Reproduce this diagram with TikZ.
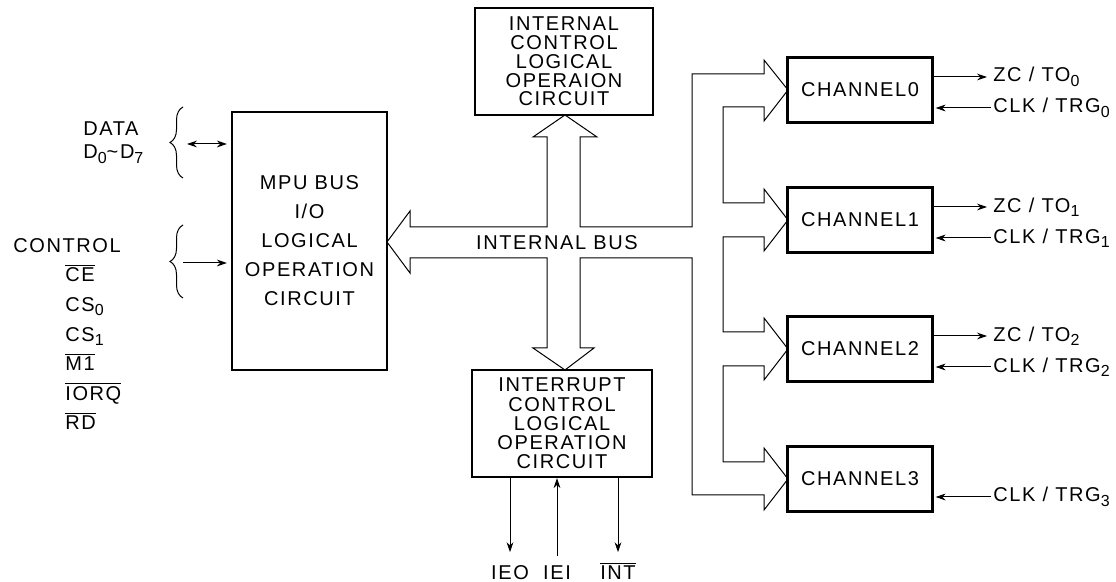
\documentclass[tikz,border=0pt]{standalone}
\usepackage{fontspec}
\setmainfont{Liberation Sans}[LetterSpace=8]
\usepackage{tikz}
\usetikzlibrary{positioning,arrows.meta,decorations.pathreplacing}

\newcommand{\ovl}[1]{$\overline{\mbox{#1}}$}
\newcommand{\sbs}[1]{\raisebox{-2.2pt}{\fontsize{8}{8}\selectfont #1}}

\tikzset{
  blk/.style={draw,line width=1.1pt,inner sep=0pt,align=center},
  sig/.style={line width=0.5pt,->},
  lbl/.style={inner sep=1pt,anchor=west},
  pin/.style={inner sep=0pt,text height=7.2pt,anchor=base},
  brc/.style={line width=0.5pt,decorate,decoration={brace,amplitude=6.5pt}}
}

\begin{document}
\begin{tikzpicture}[x=0.5pt,y=-0.5pt,>={Stealth[length=5pt,width=3.4pt]}]
\useasboundingbox (0,0) rectangle (1116,582);

\node[blk,minimum width=77.5pt,minimum height=129pt,font=\fontsize{10}{14.5}\selectfont] (mpu) at (309.5,241) {MPU BUS\\I/O\\LOGICAL\\OPERATION\\CIRCUIT};
\node[blk,minimum width=89pt,minimum height=53.5pt,font=\fontsize{10}{9.4}\selectfont] (ictl) at (564,61.5) {INTERNAL\\CONTROL\\LOGICAL\\OPERAION\\CIRCUIT};
\node[blk,minimum width=90pt,minimum height=53.5pt,font=\fontsize{10}{9.6}\selectfont] (intr) at (562,423.5) {INTERRUPT\\CONTROL\\LOGICAL\\OPERATION\\CIRCUIT};
\foreach \i/\y in {0/90,1/220,2/349,3/479}
  \node[blk,minimum width=72.5pt,minimum height=32.5pt] (ch\i) at (860,\y) {CHANNEL\i};

% hollow bus arrows
\draw[line width=0.5pt] (764,60) -- (788,90) -- (764,121) -- (764,107) -- (723,107) -- (723,203)
  -- (764,203) -- (764,189) -- (788,220) -- (764,251) -- (764,237) -- (723,237) -- (723,332)
  -- (764,332) -- (764,318) -- (788,349) -- (764,380) -- (764,366) -- (723,366) -- (723,462)
  -- (764,462) -- (764,448) -- (788,479) -- (764,510) -- (764,495) -- (692,495) -- (692,258)
  -- (580,258) -- (580,348) -- (594,348) -- (565,370) -- (533,348) -- (547,348) -- (547,258)
  -- (410,258) -- (410,273) -- (387,242) -- (410,211) -- (410,227) -- (547,227) -- (547,137)
  -- (533,137) -- (565,115) -- (597,137) -- (580,137) -- (580,227) -- (692,227) -- (692,74)
  -- (764,74) -- cycle;
\node (bus) at (557,243) {INTERNAL BUS};

\node[anchor=base west,inner sep=0pt] (data) at (83,136) {DATA};
\node[anchor=base west,inner sep=0pt] (dbits) at (83,159) {D\sbs{0}\textasciitilde D\sbs{7}};
\draw[brc] (183,178) -- (183,107);
\coordinate (dbr) at (187,144);
\draw[sig,<->,shorten >=2pt] (dbr) -- (dbr -| mpu.west);

\node[anchor=base west,inner sep=0pt] (ctl) at (13,253) {CONTROL};
\foreach \s [count=\k from 0] in {\ovl{CE},CS\sbs{0},CS\sbs{1},\ovl{M1},\ovl{IORQ},\ovl{RD}}
  \node[anchor=base west,inner sep=0pt] (csig\k) at (65,282+29.6*\k) {\s};
\draw[brc] (183,298) -- (183,225);
\coordinate (cbr) at (183,263);
\draw[sig,shorten >=2pt] (cbr) -- (cbr -| mpu.west);

\foreach \i/\y in {0/90,1/220,2/349} {
  \node[lbl] (zc\i) at (991,\y-13) {ZC / TO\sbs{\i}};
  \draw[sig,shorten >=2pt] (ch\i.east |- zc\i.west) -- (zc\i.west);
}
\foreach \i/\y in {0/90,1/220,2/349,3/479} {
  \node[lbl] (clk\i) at (991,\y+18) {CLK / TRG\sbs{\i}};
  \draw[sig,shorten >=1pt] (clk\i.west) -- (ch\i.east |- clk\i.west);
}

\node[pin] (ieo) at (510,580) {IEO};
\node[pin] (iei) at (557,580) {IEI};
\node[pin] (intn) at (618,580) {\ovl{INT}};
\draw[sig] (intr.south -| ieo) -- ([yshift=6.5pt]ieo.north);
\draw[sig] ([yshift=4.5pt]iei.north) -- (intr.south -| iei);
\draw[sig] (intr.south -| intn) -- ([yshift=6.5pt]intn.north);
\end{tikzpicture}
\end{document}
